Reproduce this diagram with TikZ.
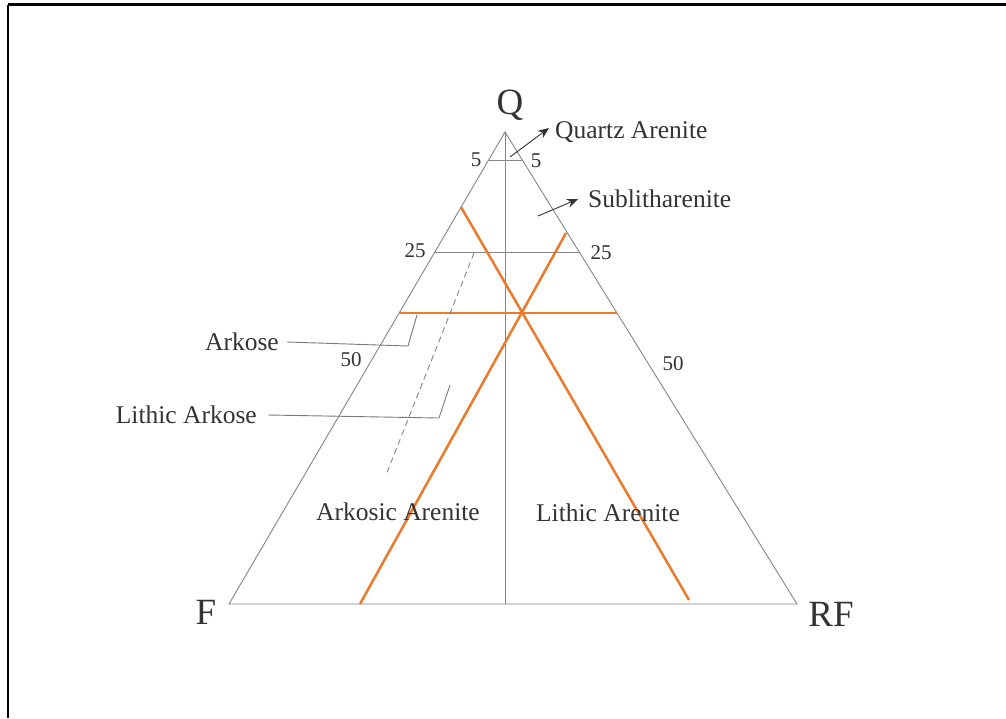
\documentclass[tikz,border=0pt]{standalone}
\usepackage{fontspec}
\setmainfont{Liberation Serif}
\usetikzlibrary{arrows.meta,calc}
\definecolor{tri}{HTML}{858585}
\definecolor{org}{HTML}{EA7A2C}
\definecolor{txt}{HTML}{333333}
\tikzset{
  triline/.style={draw=tri, line width=0.9pt},
  orgline/.style={draw=org, line width=2.5pt},
  lead/.style={draw=tri!90!black, line width=0.9pt},
  lbl/.style={text=txt, font=\fontsize{25.5}{28}\selectfont, inner sep=0pt},
  num/.style={text=txt, font=\fontsize{21}{23}\selectfont, inner sep=0pt},
  vtx/.style={text=txt, font=\fontsize{37}{40}\selectfont, inner sep=0pt},
  arr/.style={draw=txt, line width=0.9pt, -{Stealth[length=11pt,width=9pt]}},
}
\begin{document}
\begin{tikzpicture}[x=1pt,y=-1pt]
\useasboundingbox (0,0) rectangle (1006,718);
\fill[white] (0,0) rectangle (1006,718);
% frame
\draw[black, line width=2.2pt] (8.3,4.5) -- (1006,4.5);
\draw[black, line width=2.2pt] (8.3,4.5) -- (8.3,718);
% vertices
\coordinate (Q) at (505,132);
\coordinate (F) at (229,604);
\coordinate (R) at (797,604);
\coordinate (B) at (505,604);
\draw[triline] (Q) -- (F) -- (R) -- cycle;
\draw[triline] (Q) -- (B);
% 5 and 25 lines
\coordinate (f5l) at ($(Q)!0.0593!(F)$);
\coordinate (f5r) at ($(Q)!0.0593!(R)$);
\coordinate (f25l) at ($(Q)!0.2542!(F)$);
\coordinate (f25r) at ($(Q)!0.2542!(R)$);
\draw[triline] (f5l) -- (f5r);
\draw[triline] (f25l) -- (f25r);
% orange lines
\coordinate (h1) at ($(Q)!0.3835!(F)$);
\coordinate (h2) at ($(Q)!0.3835!(R)$);
\draw[orgline] (h1) -- (h2);
\coordinate (o1a) at (461,207);
\coordinate (o1b) at (689,600);
\coordinate (o2a) at (566,233);
\coordinate (o2b) at (360,604);
\draw[orgline] (o1a) -- (o1b);
\draw[orgline] (o2a) -- (o2b);
% dashed line
\coordinate (d1) at (474,253);
\coordinate (d2) at (386,475);
\draw[triline, dash pattern=on 6pt off 4pt] (d1) -- (d2);
% vertex labels
\node[vtx] (lQ) at (510,105) {Q};
\node[vtx] (lF) at (206,612) {F};
\node[vtx] (lR) at (831,614) {RF};
% numbers
\node[num] (n5l) at (476,160) {5};
\node[num] (n5r) at (536,161) {5};
\node[num] (n25l) at (415,251) {25};
\node[num] (n25r) at (601,253) {25};
\node[num] (n50l) at (351,360) {50};
\node[num] (n50r) at (673,364) {50};
% labels
\node[lbl, anchor=west] (qa) at (555,132) {Quartz Arenite};
\node[lbl, anchor=west] (sl) at (588,199) {Sublitharenite};
\node[lbl, anchor=east] (ak) at (279,342) {Arkose};
\node[lbl, anchor=east] (la) at (257,415) {Lithic Arkose};
\node[lbl] (aa) at (398,512) {Arkosic Arenite};
\node[lbl] (li) at (608,513) {Lithic Arenite};
% arrows
\coordinate (qs) at (510,157);
\draw[arr] (qs) -- ([xshift=-6pt,yshift=4pt]qa.west);
\coordinate (ss) at (538,216);
\draw[arr] (ss) -- ([xshift=-10pt]sl.west);
% leaders
\coordinate (ak1) at (408,346);
\coordinate (ak2) at (417,315);
\draw[lead] ([xshift=8pt]ak.east) -- (ak1) -- (ak2);
\coordinate (la1) at (439,418);
\coordinate (la2) at (450,385);
\draw[lead] ([xshift=11pt]la.east) -- (la1) -- (la2);
\end{tikzpicture}
\end{document}
